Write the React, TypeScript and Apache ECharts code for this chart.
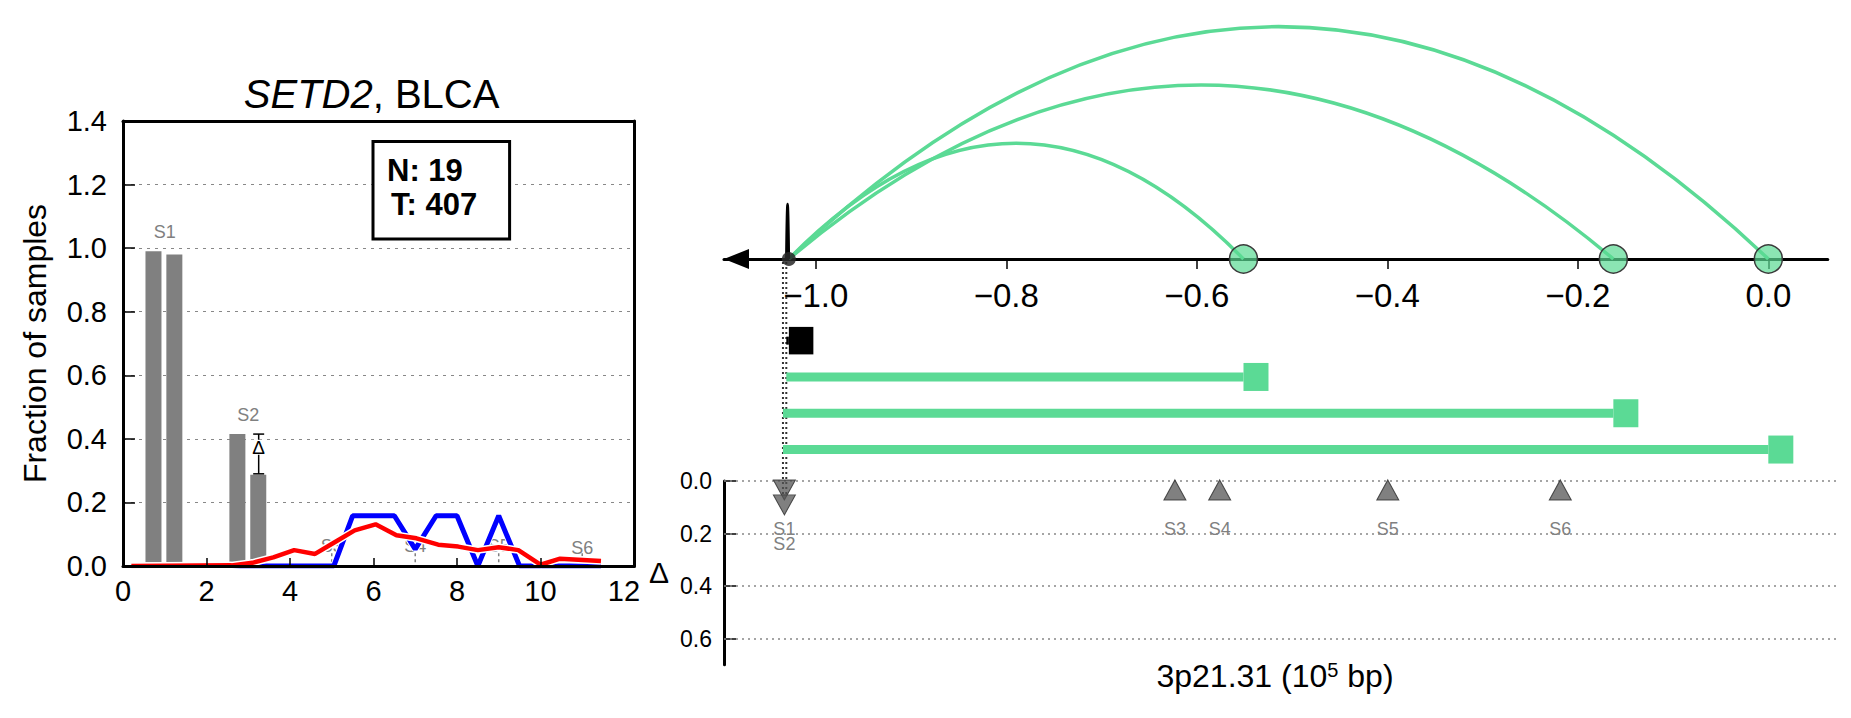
import React, { useEffect, useRef } from 'react';
import * as echarts from 'echarts';

const FONT = '"Liberation Sans", Arial, Helvetica, sans-serif';

// ---------------- Left panel ----------------
const TITLE_GENE = 'SETD2';
const TITLE_COHORT = 'BLCA';
const N_SAMPLES = 19;
const T_SAMPLES = 407;

const BAR_X = [0.73, 1.23, 2.74, 3.24];
const BAR_Y = [0.99, 0.98, 0.415, 0.287];

const BLUE_X = [0.25, 5.05, 5.5, 6.0, 6.5, 7.0, 7.5, 8.0, 8.5, 9.0, 9.5, 11.45];
const BLUE_Y = [0, 0, 0.158, 0.158, 0.158, 0.053, 0.158, 0.158, 0, 0.158, 0, 0];

const RED_X = [0.2, 2.6, 3.1, 3.6, 4.1, 4.6, 5.05, 5.55, 6.05, 6.55, 7.03, 7.55, 8.03, 8.5, 9.0, 9.47, 10.0, 10.47, 11.45];
const RED_Y = [0, 0.002, 0.01, 0.027, 0.05, 0.038, 0.073, 0.112, 0.131, 0.097, 0.087, 0.067, 0.061, 0.05, 0.059, 0.05, 0.004, 0.023, 0.016];

const LEFT_LABELS = ['S1', 'S2', 'S3', 'S4', 'S5', 'S6'];
const LEFT_LABEL_X = [1, 3, 5, 7, 9, 11];
const LEFT_LABEL_Y = [1.05, 0.474, 0.062, 0.062, 0.062, 0.056];
const LEFT_STEM = [0, 0, 1, 1, 1, 1];

const DELTA_BAR = [3.25, 0.29, 0.415]; // x, low, high

const LEFT_X_LABELS = [0, 2, 4, 6, 8, 10, 12];
const LEFT_X_TICKS = [2, 4, 6, 8, 10];
const LEFT_X_MAX = 12.25;
const LEFT_Y_MAX = 1.4;

// ---------------- Right panel ----------------
const S1_POS = -1.0345;
const S2_POS = -1.031;
const BREAK_POS = -1.0283;
const PARTNER_POS = [-0.551, -0.1627, 0.0];
const ARC_HEIGHTS = [115.7, 174, 232.3];
const SPIKE_HEIGHT = 55;

const ROW_STARTS = [S2_POS, S2_POS, S1_POS, S1_POS];
const ROW_ENDS = [BREAK_POS, -0.551, -0.1627, 0.0];
const ROW_BLACK = [1, 0, 0, 0];

const RIGHT_TICKS = [-1.0, -0.8, -0.6, -0.4, -0.2, 0.0];
const R_MIN = -1.0964;
const R_MAX_TOP = 0.0624;
const R_MAX_DELTA = 0.0742;
const ARC_Y_MAX = 259;
const DROP_TOP = -3;
const DROP_BOTTOM = -238;

const DELTA_NAMES = ['S1', 'S2', 'S3', 'S4', 'S5', 'S6'];
const DELTA_X = [-1.033, -1.033, -0.623, -0.576, -0.3995, -0.2184];
const DELTA_Y = [0.034, 0.091, 0.034, 0.034, 0.034, 0.034];
const DELTA_DOWN = [1, 1, 0, 0, 0, 0];
const DELTA_TICKS = [0, 0.2, 0.4, 0.6];
const DELTA_MAX = 0.7;

const GREEN = '#5bda95';
const GRAY_TXT = '#808080';
const PX_PER_UNIT = 952.5;

const minus = (v: number) => (v < -1e-9 ? '\u2212' : '') + Math.abs(v).toFixed(1);

function buildOption(): any {
  const txt = (extra: any) => ({ fontFamily: FONT, ...extra });
  return {
    animation: false,
    textStyle: { fontFamily: FONT },
    grid: [
      { left: 123, top: 121, width: 511.4, height: 445, containLabel: false },
      { left: 724, top: 0, width: (R_MAX_TOP - R_MIN) * PX_PER_UNIT, height: 259 },
      { left: 724, top: 322.5, width: (R_MAX_TOP - R_MIN) * PX_PER_UNIT, height: 145.2 },
      { left: 724, top: 481, width: (R_MAX_DELTA - R_MIN) * PX_PER_UNIT, height: 183.75 },
    ],
    xAxis: [
      {
        type: 'value', gridIndex: 0, min: 0, max: LEFT_X_MAX, z: 10,
        axisLine: { show: true, onZero: false, lineStyle: { color: '#000', width: 3 } },
        axisTick: { show: true, inside: true, length: 8, customValues: LEFT_X_TICKS, lineStyle: { color: '#000', width: 1.5 } },
        axisLabel: { customValues: LEFT_X_LABELS, fontSize: 29, color: '#000', margin: 10, fontFamily: FONT },
        splitLine: { show: false },
      },
      {
        type: 'value', gridIndex: 0, position: 'top', min: 0, max: LEFT_X_MAX, z: 10,
        axisLine: { show: true, onZero: false, lineStyle: { color: '#000', width: 3 } },
        axisTick: { show: false }, axisLabel: { show: false }, splitLine: { show: false },
      },
      {
        type: 'value', gridIndex: 1, min: R_MIN, max: R_MAX_TOP,
        axisLine: { show: true, onZero: false, lineStyle: { color: '#000', width: 3 } },
        axisTick: { show: true, length: 10, customValues: RIGHT_TICKS, lineStyle: { color: '#000', width: 1.5 } },
        axisLabel: { customValues: RIGHT_TICKS, fontSize: 33, color: '#000', margin: 20, fontFamily: FONT, formatter: (v: number) => minus(v) },
        splitLine: { show: false },
      },
      { type: 'value', gridIndex: 2, min: R_MIN, max: R_MAX_TOP, show: false },
      { type: 'value', gridIndex: 3, min: R_MIN, max: R_MAX_DELTA, show: false },
    ],
    yAxis: [
      {
        type: 'value', gridIndex: 0, min: 0, max: LEFT_Y_MAX, interval: 0.2,
        name: 'Fraction of samples', nameLocation: 'middle', nameGap: 72,
        nameTextStyle: txt({ fontSize: 32, color: '#000' }),
        axisLine: { show: true, onZero: false, lineStyle: { color: '#000', width: 3 } },
        axisTick: { show: true, inside: true, length: 12, lineStyle: { color: '#000', width: 1.5 } },
        axisLabel: { fontSize: 29, color: '#000', margin: 16, fontFamily: FONT, formatter: (v: number) => v.toFixed(1) },
        splitLine: { show: true, lineStyle: { color: '#888', type: [3, 5], width: 1 } },
      },
      {
        type: 'value', gridIndex: 0, position: 'right', min: 0, max: LEFT_Y_MAX, z: 10,
        axisLine: { show: true, onZero: false, lineStyle: { color: '#000', width: 3 } },
        axisTick: { show: false }, axisLabel: { show: false }, splitLine: { show: false },
      },
      { type: 'value', gridIndex: 1, min: 0, max: ARC_Y_MAX, show: false },
      { type: 'value', gridIndex: 2, min: -0.5, max: 3.5, inverse: true, show: false },
      {
        type: 'value', gridIndex: 3, min: 0, max: DELTA_MAX, inverse: true,
        name: 'Δ', nameLocation: 'middle', nameGap: 55, nameRotate: 0,
        nameTextStyle: txt({ fontSize: 30, color: '#000', padding: [0, 0, 18, 0] }),
        axisLine: { show: true, onZero: false, lineStyle: { color: '#000', width: 3 } },
        axisTick: { show: true, inside: true, length: 12, customValues: DELTA_TICKS, lineStyle: { color: '#000', width: 1.5 } },
        axisLabel: { customValues: DELTA_TICKS, fontSize: 23, color: '#000', margin: 12, fontFamily: FONT, formatter: (v: number) => v.toFixed(1) },
        splitLine: { show: false },
      },
    ],
    series: [
      // left: S labels (under everything)
      {
        type: 'custom', xAxisIndex: 0, yAxisIndex: 0, z: 2, silent: true,
        data: LEFT_LABEL_X.map((x, i) => [x, LEFT_LABEL_Y[i], LEFT_STEM[i]]),
        renderItem: (params: any, api: any) => {
          const x = api.value(0), y = api.value(1), stem = api.value(2);
          const p = api.coord([x, y]);
          const children: any[] = [
            { type: 'text', x: p[0], y: p[1], style: { text: LEFT_LABELS[params.dataIndex], fill: GRAY_TXT, fontSize: 18, fontFamily: FONT, align: 'center', verticalAlign: 'middle' } },
          ];
          if (stem) {
            const a = api.coord([x, 0.012]);
            const b = api.coord([x, 0.04]);
            children.push({ type: 'line', shape: { x1: a[0], y1: a[1], x2: b[0], y2: b[1] }, style: { stroke: GRAY_TXT, lineWidth: 1.5, lineDash: [3, 3] } });
          }
          return { type: 'group', children };
        },
      },
      {
        type: 'bar', xAxisIndex: 0, yAxisIndex: 0, z: 3, barWidth: 16,
        data: BAR_X.map((x, i) => [x, BAR_Y[i]]),
        itemStyle: { color: '#808080' },
      },
      {
        type: 'line', xAxisIndex: 0, yAxisIndex: 0, z: 4, symbol: 'none', silent: true,
        data: BLUE_X.map((x, i) => [x, BLUE_Y[i]]),
        lineStyle: { color: '#fff', width: 7 },
      },
      {
        type: 'line', xAxisIndex: 0, yAxisIndex: 0, z: 4, symbol: 'none',
        data: BLUE_X.map((x, i) => [x, BLUE_Y[i]]),
        lineStyle: { color: '#0000ff', width: 5 },
      },
      {
        type: 'line', xAxisIndex: 0, yAxisIndex: 0, z: 4, symbol: 'none', silent: true,
        data: RED_X.map((x, i) => [x, RED_Y[i]]),
        lineStyle: { color: '#fff', width: 7.5 },
      },
      {
        type: 'line', xAxisIndex: 0, yAxisIndex: 0, z: 4, symbol: 'none',
        data: RED_X.map((x, i) => [x, RED_Y[i]]),
        lineStyle: { color: '#ff0000', width: 4.5 },
      },
      // error bar with Δ
      {
        type: 'custom', xAxisIndex: 0, yAxisIndex: 0, z: 6, silent: true,
        data: [DELTA_BAR],
        renderItem: (params: any, api: any) => {
          const x = api.value(0), lo = api.value(1), hi = api.value(2);
          const pl = api.coord([x, lo]);
          const ph = api.coord([x, hi]);
          const yc = ph[1] + (pl[1] - ph[1]) * 0.33;
          return {
            type: 'group',
            children: [
              { type: 'line', shape: { x1: pl[0], y1: pl[1], x2: ph[0], y2: ph[1] }, style: { stroke: '#000', lineWidth: 1.5 } },
              { type: 'line', shape: { x1: pl[0] - 5.5, y1: pl[1], x2: pl[0] + 5.5, y2: pl[1] }, style: { stroke: '#000', lineWidth: 1.5 } },
              { type: 'line', shape: { x1: ph[0] - 5.5, y1: ph[1], x2: ph[0] + 5.5, y2: ph[1] }, style: { stroke: '#000', lineWidth: 1.5 } },
              { type: 'rect', shape: { x: ph[0] - 8, y: yc - 7.5, width: 16, height: 15 }, style: { fill: '#fff' } },
              { type: 'text', x: ph[0], y: yc, style: { text: 'Δ', fill: '#000', fontSize: 19, fontFamily: FONT, align: 'center', verticalAlign: 'middle' } },
            ],
          };
        },
      },
      // right: arcs
      {
        type: 'custom', xAxisIndex: 2, yAxisIndex: 2, z: 3, silent: true, clip: false,
        encode: { x: [0, 1], y: 2 },
        data: PARTNER_POS.map((e, i) => [BREAK_POS, e, ARC_HEIGHTS[i], 0]).concat([[S2_POS, BREAK_POS, SPIKE_HEIGHT, 1]]),
        renderItem: (params: any, api: any) => {
          const x0 = api.value(0), x1 = api.value(1), h = api.value(2), black = api.value(3);
          const p0 = api.coord([x0, 0]);
          const p1 = api.coord([x1, 0]);
          const c = api.coord([(x0 + x1) / 2, 2 * h]);
          return {
            type: 'bezierCurve',
            shape: { x1: p0[0], y1: p0[1], x2: p1[0], y2: p1[1], cpx1: c[0], cpy1: c[1] },
            style: { stroke: black ? '#000' : GREEN, lineWidth: black ? 2.5 : 3.5, fill: null },
          };
        },
      },
      // dotted drop lines
      {
        type: 'custom', xAxisIndex: 2, yAxisIndex: 2, z: 3, silent: true, clip: false,
        data: [[S1_POS, 0], [S2_POS, 0]],
        renderItem: (params: any, api: any) => {
          const v = api.value(0);
          const a = api.coord([v, DROP_TOP]);
          const b = api.coord([v, DROP_BOTTOM]);
          return { type: 'line', shape: { x1: a[0], y1: a[1], x2: b[0], y2: b[1] }, style: { stroke: '#333', lineWidth: 2, lineDash: [2, 3] } };
        },
      },
      {
        type: 'scatter', xAxisIndex: 2, yAxisIndex: 2, z: 5, silent: true, clip: false,
        data: PARTNER_POS.map((v) => [v, 0]),
        symbolSize: 28,
        itemStyle: { color: 'rgba(90,218,147,0.7)', borderColor: '#3a3a3a', borderWidth: 1.5, opacity: 1 },
      },
      {
        type: 'scatter', xAxisIndex: 2, yAxisIndex: 2, z: 5, silent: true, clip: false,
        data: [[BREAK_POS, 0]],
        symbolSize: 14,
        itemStyle: { color: 'rgba(40,40,40,0.85)', opacity: 1 },
      },
      {
        type: 'scatter', xAxisIndex: 2, yAxisIndex: 2, z: 5, silent: true, clip: false,
        data: [[R_MIN + 12.5 / PX_PER_UNIT, 0]],
        symbol: 'triangle', symbolRotate: 90, symbolSize: [20, 25],
        itemStyle: { color: '#000', opacity: 1 },
      },
      // rows
      {
        type: 'custom', xAxisIndex: 3, yAxisIndex: 3, z: 4, silent: true, clip: false,
        encode: { x: [0, 1], y: 2 },
        data: ROW_STARTS.map((s, i) => [s, ROW_ENDS[i], i, ROW_BLACK[i]]),
        renderItem: (params: any, api: any) => {
          const s = api.coord([api.value(0), api.value(2)]);
          const e = api.coord([api.value(1), api.value(2)]);
          const black = api.value(3);
          const color = black ? '#000' : GREEN;
          const w = black ? 24.5 : 25;
          const h = black ? 27.5 : 28;
          return {
            type: 'group',
            children: [
              { type: 'line', shape: { x1: s[0], y1: s[1], x2: e[0], y2: e[1] }, style: { stroke: color, lineWidth: black ? 8 : 9 } },
              { type: 'rect', shape: { x: e[0], y: e[1] - h / 2, width: w, height: h }, style: { fill: color } },
            ],
          };
        },
      },
      // delta panel gridlines
      {
        type: 'scatter', xAxisIndex: 4, yAxisIndex: 4, z: 2, silent: true, symbolSize: 0,
        data: [[DELTA_X[0], DELTA_Y[0]]],
        markLine: {
          silent: true, symbol: ['none', 'none'], label: { show: false },
          lineStyle: { color: '#888', type: [2, 4], width: 1.5 },
          data: DELTA_TICKS.map((v) => ({ yAxis: v })),
        },
      },
      {
        type: 'custom', xAxisIndex: 4, yAxisIndex: 4, z: 3, silent: true, clip: false,
        data: DELTA_X.map((x, i) => [x, DELTA_Y[i]]),
        renderItem: (params: any, api: any) => {
          const p = api.coord([api.value(0), api.value(1)]);
          return { type: 'text', x: p[0], y: p[1] + 39, style: { text: DELTA_NAMES[params.dataIndex], fill: GRAY_TXT, fontSize: 18, fontFamily: FONT, align: 'center', verticalAlign: 'middle' } };
        },
      },
      {
        type: 'scatter', xAxisIndex: 4, yAxisIndex: 4, z: 5, silent: true, clip: false,
        symbol: 'triangle', symbolSize: [22, 20],
        data: DELTA_X.map((x, i) => ({ value: [x, DELTA_Y[i]], symbolRotate: DELTA_DOWN[i] ? 180 : 0 })),
        itemStyle: { color: 'rgba(85,85,85,0.75)', borderColor: 'rgba(50,50,50,0.85)', borderWidth: 1, opacity: 1 },
      },
    ],
    graphic: [
      {
        type: 'text', x: 371.6, y: 94, z: 50,
        style: {
          text: `{i|${TITLE_GENE}}, ${TITLE_COHORT}`,
          rich: { i: { fontStyle: 'italic', fontSize: 40, fontFamily: FONT, fill: '#000' } },
          fontSize: 40, fontFamily: FONT, fill: '#000', align: 'center', verticalAlign: 'middle',
        },
      },
      { type: 'rect', z: 50, shape: { x: 373, y: 141.4, width: 136.6, height: 97.6 }, style: { fill: '#fff', stroke: '#000', lineWidth: 3 } },
      { type: 'text', x: 387, y: 170, z: 51, style: { text: `N: ${N_SAMPLES}`, fontSize: 31, fontWeight: 'bold', fontFamily: FONT, fill: '#000', align: 'left', verticalAlign: 'middle' } },
      { type: 'text', x: 391, y: 204, z: 51, style: { text: `T: ${T_SAMPLES}`, fontSize: 31, fontWeight: 'bold', fontFamily: FONT, fill: '#000', align: 'left', verticalAlign: 'middle' } },
      {
        type: 'text', x: 1275, y: 676, z: 50,
        style: {
          text: '3p21.31 (10{sup|5} bp)',
          rich: { sup: { fontSize: 20, fontFamily: FONT, fill: '#000', verticalAlign: 'top' } },
          fontSize: 32, fontFamily: FONT, fill: '#000', align: 'center', verticalAlign: 'middle',
        },
      },
    ],
  };
}

export default function App() {
  const ref = useRef<HTMLDivElement>(null);
  useEffect(() => {
    document.body.style.margin = '0';
    const chart = echarts.init(ref.current as HTMLDivElement, null, { renderer: 'svg' });
    chart.setOption(buildOption());
    return () => {
      chart.dispose();
    };
  }, []);
  return <div ref={ref} style={{ width: 1851, height: 718, background: '#fff' }} />;
}
